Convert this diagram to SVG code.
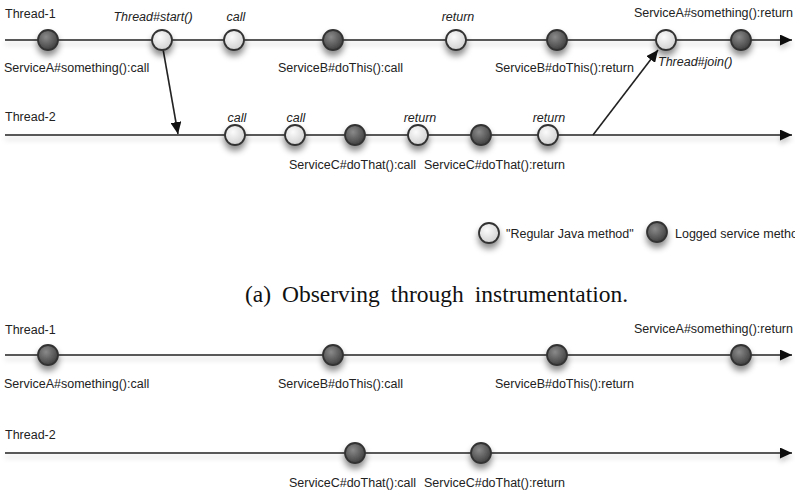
<svg xmlns="http://www.w3.org/2000/svg" width="795" height="498" viewBox="0 0 795 498">
<defs>
<style>
text{font-family:"Liberation Sans",Arial,sans-serif;font-size:12.5px;fill:#222}
.it{font-style:italic;text-anchor:middle}
.cap{font-family:"Liberation Serif","Times New Roman",serif;font-size:23.5px;word-spacing:5px;fill:#111}
.line{stroke:#222;stroke-width:1.6;fill:none}
.light{fill:url(#gL);stroke:#333;stroke-width:1.8}
.dark{fill:url(#gD);stroke:#333;stroke-width:1.8}
</style>
<radialGradient id="gL" cx="0.4" cy="0.35" r="0.7">
<stop offset="0" stop-color="#fbfbfb"/><stop offset="1" stop-color="#cfcfcf"/>
</radialGradient>
<radialGradient id="gD" cx="0.4" cy="0.35" r="0.7">
<stop offset="0" stop-color="#8a8a8a"/><stop offset="1" stop-color="#3c3c3c"/>
</radialGradient>
<filter id="sh" x="-50%" y="-50%" width="200%" height="250%">
<feDropShadow dx="0" dy="5" stdDeviation="3" flood-color="#000" flood-opacity="0.45"/>
</filter>
<filter id="lsh" filterUnits="userSpaceOnUse" x="0" y="0" width="795" height="498">
<feDropShadow dx="0" dy="4" stdDeviation="2.5" flood-color="#000" flood-opacity="0.2"/>
</filter>
<marker id="ah" viewBox="0 0 12 11" refX="12" refY="5.5" markerWidth="12" markerHeight="11" markerUnits="userSpaceOnUse" orient="auto">
<path d="M0,0 L12,5.5 L0,11 Z" fill="#111"/>
</marker>
</defs>
<rect width="795" height="498" fill="#fff"/>

<g id="connectors">
<line class="line" filter="url(#lsh)" x1="5" y1="40" x2="792" y2="40" marker-end="url(#ah)"/>
<line class="line" filter="url(#lsh)" x1="5" y1="135" x2="792" y2="135" marker-end="url(#ah)"/>
<line class="line" x1="163" y1="49" x2="178" y2="134" marker-end="url(#ah)"/>
<line class="line" x1="593" y1="135" x2="658" y2="50" marker-end="url(#ah)"/>
<line class="line" filter="url(#lsh)" x1="5" y1="355" x2="792" y2="355" marker-end="url(#ah)"/>
<line class="line" filter="url(#lsh)" x1="5" y1="453" x2="792" y2="453" marker-end="url(#ah)"/>
</g>

<g id="labels-a">
<text x="5" y="18">Thread-1</text>
<text x="5" y="121">Thread-2</text>
</g>

<g id="a-t1-n1"><circle class="dark" filter="url(#sh)" cx="48" cy="40" r="10"/><text x="4" y="72">ServiceA#something():call</text></g>
<g id="a-t1-n2"><circle class="light" filter="url(#sh)" cx="162" cy="40" r="10"/><text class="it" x="153" y="21">Thread#start()</text></g>
<g id="a-t1-n3"><circle class="light" filter="url(#sh)" cx="234" cy="40" r="10"/><text class="it" x="236" y="21">call</text></g>
<g id="a-t1-n4"><circle class="dark" filter="url(#sh)" cx="333" cy="40" r="10"/><text x="278" y="72">ServiceB#doThis():call</text></g>
<g id="a-t1-n5"><circle class="light" filter="url(#sh)" cx="456" cy="40" r="10"/><text class="it" x="458" y="21">return</text></g>
<g id="a-t1-n6"><circle class="dark" filter="url(#sh)" cx="557" cy="40" r="10"/><text x="495" y="72">ServiceB#doThis():return</text></g>
<g id="a-t1-n7"><circle class="light" filter="url(#sh)" cx="666" cy="40" r="10"/><text x="658" y="66" style="font-style:italic">Thread#join()</text></g>
<g id="a-t1-n8"><circle class="dark" filter="url(#sh)" cx="741" cy="40" r="10"/><text x="793" y="17" text-anchor="end">ServiceA#something():return</text></g>

<g id="a-t2-n1"><circle class="light" filter="url(#sh)" cx="235" cy="135" r="10"/><text class="it" x="237" y="122">call</text></g>
<g id="a-t2-n2"><circle class="light" filter="url(#sh)" cx="295" cy="135" r="10"/><text class="it" x="296" y="122">call</text></g>
<g id="a-t2-n3"><circle class="dark" filter="url(#sh)" cx="355" cy="135" r="10"/><text x="289" y="169">ServiceC#doThat():call</text></g>
<g id="a-t2-n4"><circle class="light" filter="url(#sh)" cx="418" cy="135" r="10"/><text class="it" x="420" y="122">return</text></g>
<g id="a-t2-n5"><circle class="dark" filter="url(#sh)" cx="481" cy="135" r="10"/><text x="424" y="169">ServiceC#doThat():return</text></g>
<g id="a-t2-n6"><circle class="light" filter="url(#sh)" cx="548" cy="135" r="10"/><text class="it" x="549" y="122">return</text></g>

<g id="legend">
<circle class="light" filter="url(#sh)" cx="489" cy="233" r="10"/>
<text x="506" y="238">"Regular Java method"</text>
<circle class="dark" filter="url(#sh)" cx="657" cy="232" r="10"/>
<text x="675" y="238">Logged service method</text>
</g>

<text class="cap" x="245" y="302">(a) Observing through instrumentation.</text>

<g id="labels-b">
<text x="5" y="334">Thread-1</text>
<text x="5" y="439">Thread-2</text>
</g>
<g id="b-t1-n1"><circle class="dark" filter="url(#sh)" cx="48" cy="355" r="10"/><text x="4" y="388">ServiceA#something():call</text></g>
<g id="b-t1-n2"><circle class="dark" filter="url(#sh)" cx="333" cy="355" r="10"/><text x="278" y="388">ServiceB#doThis():call</text></g>
<g id="b-t1-n3"><circle class="dark" filter="url(#sh)" cx="557" cy="355" r="10"/><text x="495" y="388">ServiceB#doThis():return</text></g>
<g id="b-t1-n4"><circle class="dark" filter="url(#sh)" cx="741" cy="355" r="10"/><text x="793" y="333" text-anchor="end">ServiceA#something():return</text></g>
<g id="b-t2-n1"><circle class="dark" filter="url(#sh)" cx="355" cy="453" r="10"/><text x="289" y="487">ServiceC#doThat():call</text></g>
<g id="b-t2-n2"><circle class="dark" filter="url(#sh)" cx="481" cy="453" r="10"/><text x="424" y="487">ServiceC#doThat():return</text></g>
</svg>
